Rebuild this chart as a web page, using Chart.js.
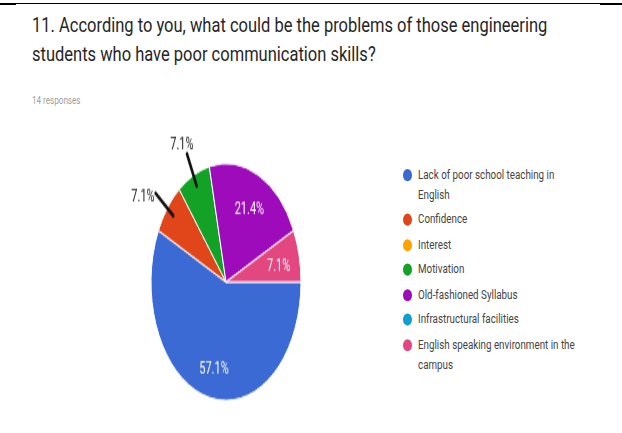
<!DOCTYPE html>
<html>
<head>
<meta charset="utf-8">
<script src="https://cdn.jsdelivr.net/npm/chart.js@4/dist/chart.umd.min.js"></script>
<style>
  html, body { margin: 0; padding: 0; background: #fff; }
  #page { position: relative; width: 622px; height: 433px; overflow: hidden;
          font-family: Roboto, "Noto Sans", sans-serif; }
  .rule { position: absolute; background: #000; }
  #title { position: absolute; left: 32px; top: 10.5px; width: 580px; margin: 0;
           font-size: 16.5px; line-height: 23.9px; font-weight: 400; color: #262626;
           transform: scaleY(1.215); transform-origin: 0 0; }
  #count { position: absolute; left: 32px; top: 92.5px; font-size: 8.1px; line-height: 10px;
           color: #9e9e9e; transform: scaleY(1.32); transform-origin: 0 0; }
  #plot { position: absolute; left: 101px; top: 124px; width: 250px; height: 180px;
          transform: scaleY(1.58); transform-origin: 0 0; }
  #legend { position: absolute; left: 403px; top: 165px; margin: 0; padding: 0; list-style: none;
            transform: scaleY(1.35); transform-origin: 0 0; }
  #legend li { position: relative; padding-left: 15px; width: 166px; font-size: 9.8px;
               line-height: 14.8px; color: #444; margin-bottom: 3.7px; }
  #legend li i { position: absolute; left: -0.5px; top: 2.9px; width: 9px; height: 9px; border-radius: 50%; }
</style>
</head>
<body>
<div id="page">
  <div class="rule" style="left:0;top:3px;width:622px;height:1px;"></div>
  <div class="rule" style="left:0;top:3px;width:16px;height:2px;"></div>
  <div class="rule" style="left:600px;top:3px;width:22px;height:2px;"></div>
  <h1 id="title"></h1>
  <div id="count"></div>
  <div id="plot"><canvas id="pie" width="250" height="180"></canvas></div>
  <ul id="legend"></ul>
</div>
<script>
// Survey question and answer options
const questionLines = [
  '11. According to you, what could be the problems of those engineering',
  'students who have poor communication skills?'
];
const categories = [
  'Lack of poor school teaching in English',
  'Confidence',
  'Interest',
  'Motivation',
  'Old-fashioned Syllabus',
  'Infrastructural facilities',
  'English speaking environment in the campus'
];
// Number of respondents choosing each option
const responses = [8, 1, 0, 1, 3, 0, 1];
const sliceColors = ['#3b6ad4', '#e0461a', '#ffa300', '#13a126', '#9e0bbb', '#119ed0', '#e2487f'];

const totalResponses = responses.reduce((a, b) => a + b, 0);

const titleEl = document.getElementById('title');
questionLines.forEach((line, i) => {
  if (i) titleEl.appendChild(document.createElement('br'));
  titleEl.appendChild(document.createTextNode(line));
});
document.getElementById('count').textContent = totalResponses + ' responses';

// Legend list
const legendEl = document.getElementById('legend');
categories.forEach((name, i) => {
  const li = document.createElement('li');
  const dot = document.createElement('i');
  dot.style.background = sliceColors[i];
  li.appendChild(dot);
  li.appendChild(document.createTextNode(name));
  legendEl.appendChild(li);
});

// Percentage labels: inside the slice, or outside with a leader line
// when a small slice sits next to another small slice.
const sliceLabels = {
  id: 'sliceLabels',
  afterDatasetsDraw(chart) {
    const ctx = chart.ctx;
    const meta = chart.getDatasetMeta(0);
    const values = chart.data.datasets[0].data;
    const total = values.reduce((a, b) => a + b, 0);
    const shown = values.map((v, i) => i).filter(i => values[i] > 0);
    ctx.save();
    ctx.font = '11px Roboto, "Noto Sans", sans-serif';
    shown.forEach((i, k) => {
      const share = values[i] / total;
      const text = (share * 100).toFixed(1) + '%';
      const p = meta.data[i].getProps(['x', 'y', 'startAngle', 'endAngle', 'outerRadius'], true);
      const mid = (p.startAngle + p.endAngle) / 2;
      const c = Math.cos(mid), s = Math.sin(mid);
      const prev = shown[(k - 1 + shown.length) % shown.length];
      const next = shown[(k + 1) % shown.length];
      const crowded = share < 0.1 && (values[prev] / total < 0.1 || values[next] / total < 0.1);
      if (!crowded) {
        const r = p.outerRadius * 0.72;
        ctx.fillStyle = '#ffffff';
        ctx.textAlign = 'center';
        ctx.textBaseline = 'middle';
        // nudge down so the digits, not the em box, sit on the anchor point
        ctx.fillText(text, p.x + c * r, p.y + s * r + 2.5);
      } else {
        const r0 = p.outerRadius * 0.9, r1 = p.outerRadius * 1.2;
        const x1 = p.x + c * r1, y1 = p.y + s * r1;
        ctx.strokeStyle = '#111';
        ctx.lineWidth = 2.5;
        ctx.lineCap = 'round';
        ctx.beginPath();
        ctx.moveTo(p.x + c * r0, p.y + s * r0);
        ctx.lineTo(x1, y1);
        ctx.stroke();
        ctx.fillStyle = '#222';
        if (Math.abs(c) > 0.6) {
          ctx.textAlign = c < 0 ? 'right' : 'left';
          ctx.textBaseline = 'middle';
          ctx.fillText(text, x1 + (c < 0 ? -1 : 1), y1 + 2);
        } else {
          ctx.textAlign = 'center';
          ctx.textBaseline = 'middle';
          ctx.fillText(text, x1 - 5, y1 + (s < 0 ? -5.5 : 5.5));
        }
      }
    });
    ctx.restore();
  }
};

new Chart(document.getElementById('pie'), {
  type: 'pie',
  data: {
    labels: categories,
    datasets: [{
      data: responses,
      backgroundColor: sliceColors,
      borderColor: '#ffffff',
      borderWidth: 1
    }]
  },
  options: {
    responsive: false,
    animation: false,
    rotation: 90,
    radius: 75,
    layout: { padding: { top: 20, bottom: 0, left: 0, right: 0 } },
    plugins: {
      legend: { display: false },
      tooltip: { enabled: false }
    }
  },
  plugins: [sliceLabels]
});
</script>
</body>
</html>
